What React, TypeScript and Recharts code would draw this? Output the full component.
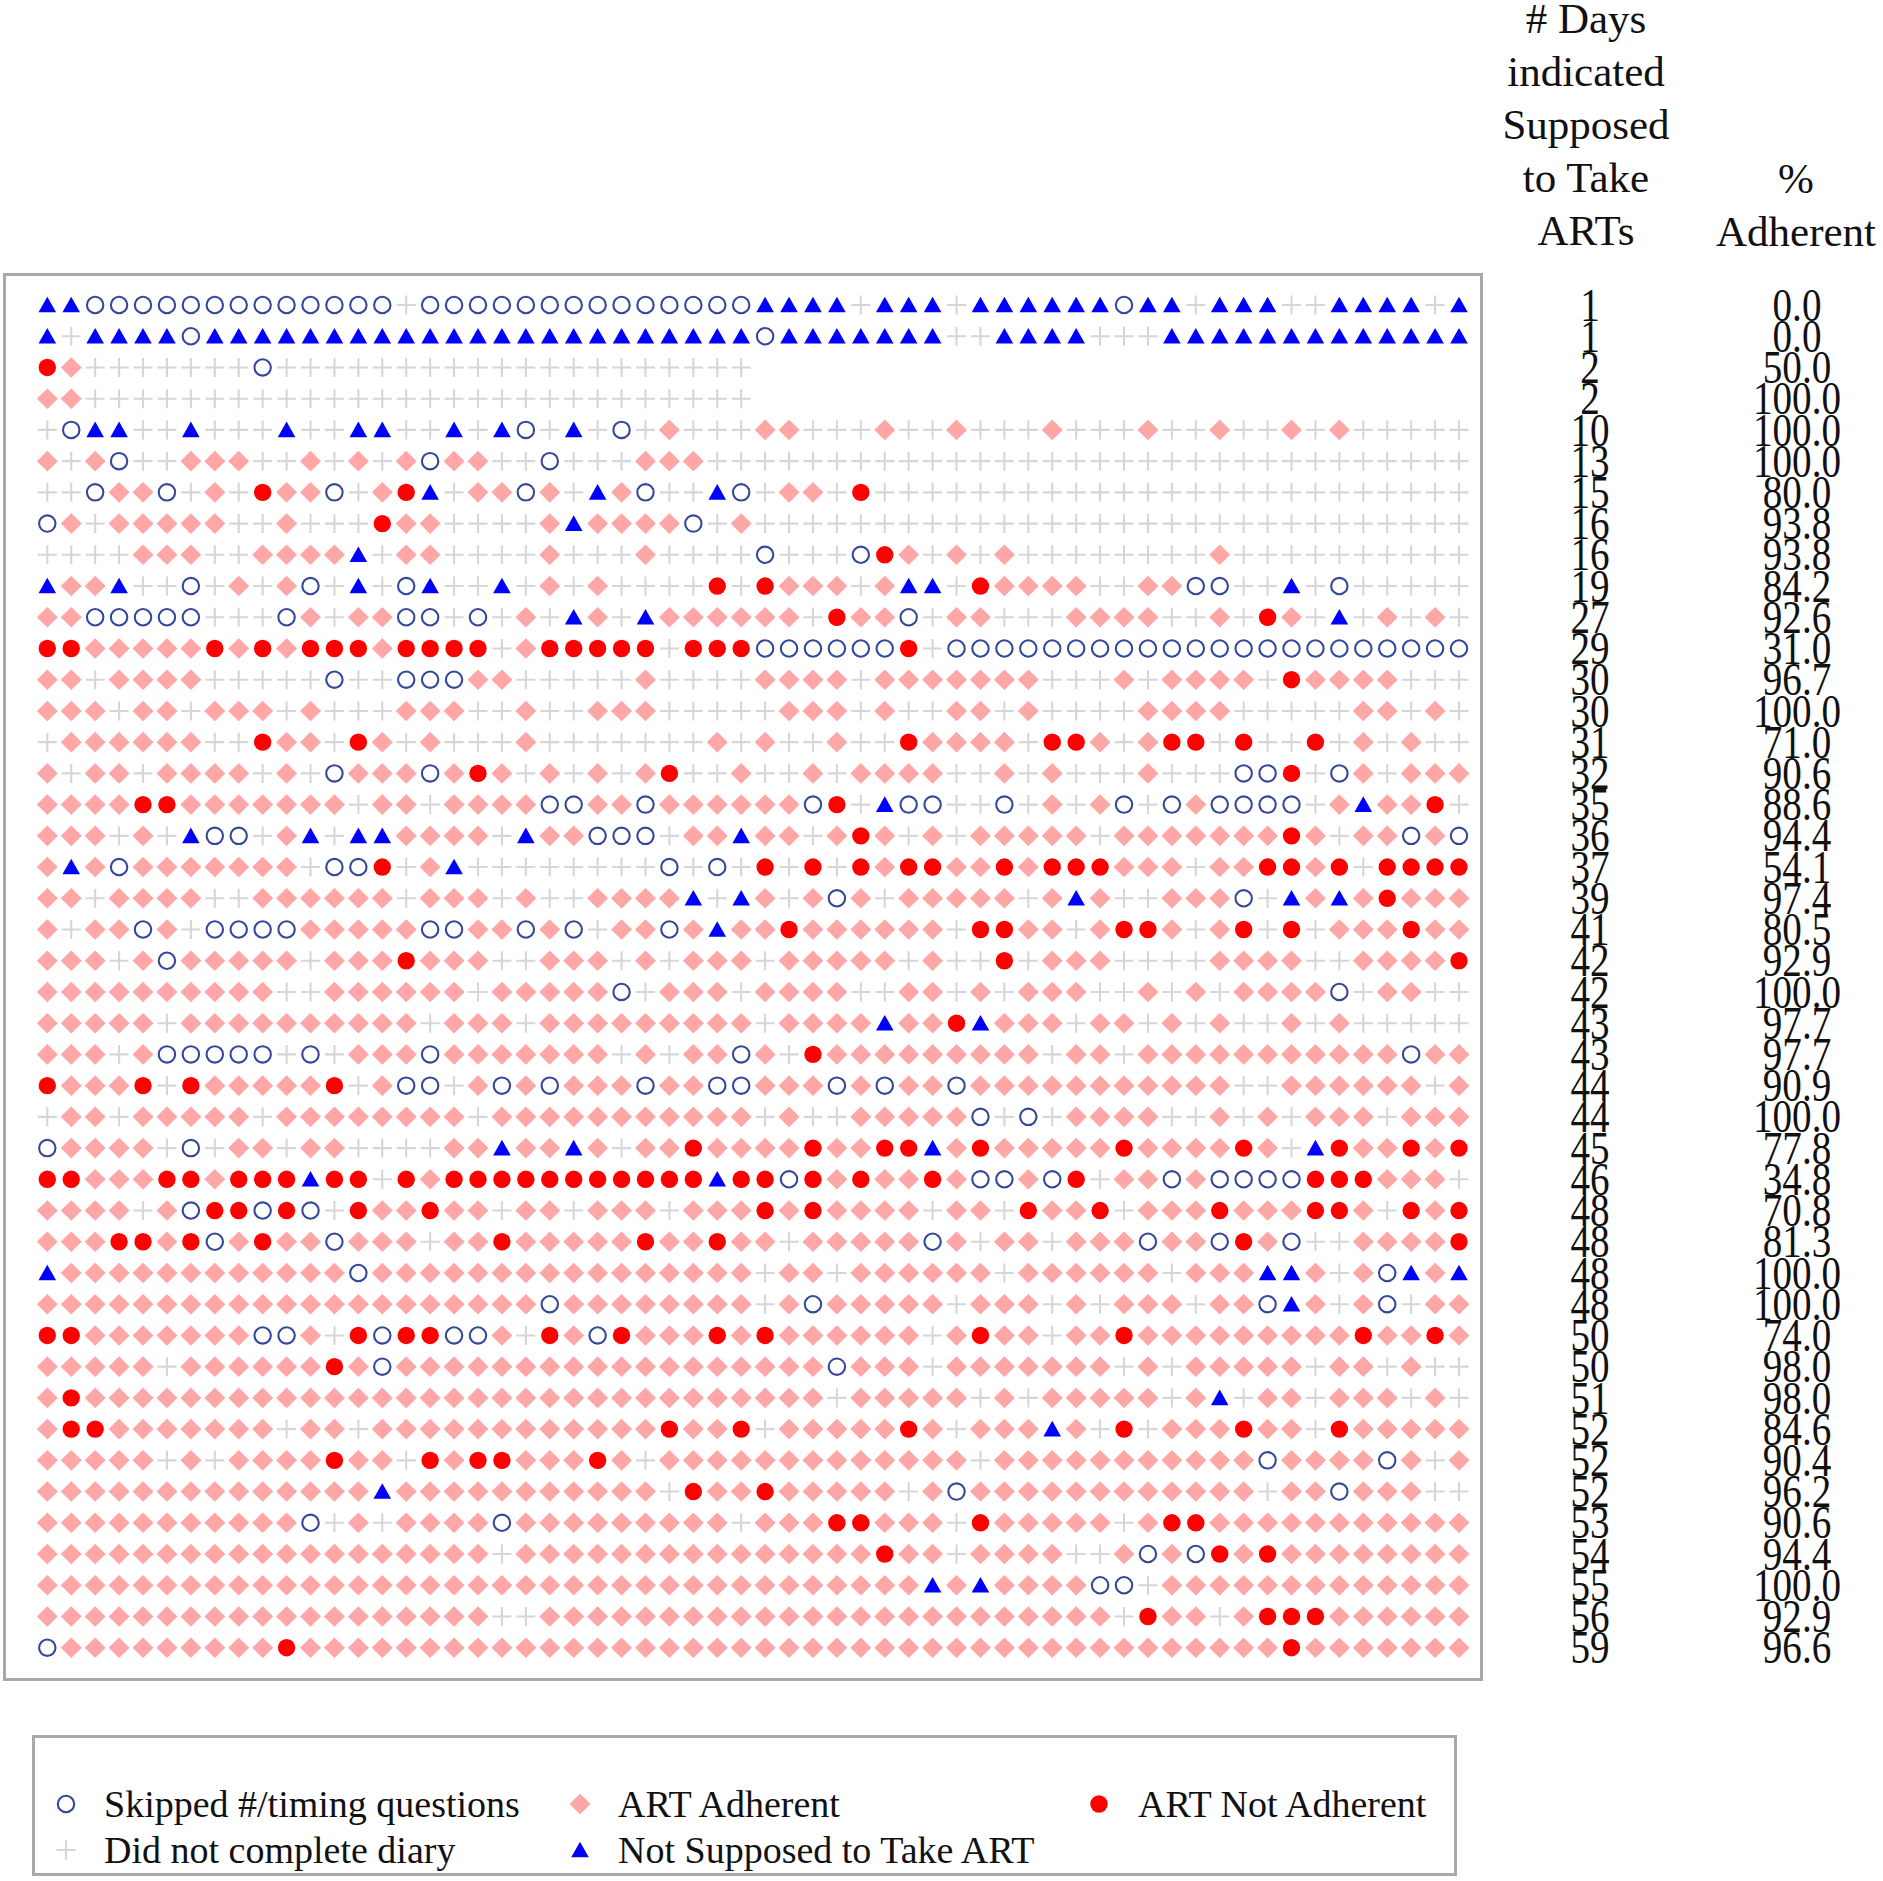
import React from "react";
import { ScatterChart, Scatter, XAxis, YAxis } from "recharts";

// Daily status per participant (rows) and study day (columns).
// O = skipped #/timing questions, D = ART adherent, R = ART not adherent,
// P = did not complete diary, T = not supposed to take ART
const dailyStatus: string[] = [
  "TTOOOOOOOO OOOOOPOOOO OOOOOOOOOO TTTTPTTTPT TTTTTOTTPT TTPPTTTTPT",
  "TPTTTTOTTT TTTTTTTTTT TTTTTTTTTT OTTTTTTTPP TTTTPPPTTT TTTTTTTTTT",
  "RDPPPPPPPO PPPPPPPPPP PPPPPPPPPP",
  "DDPPPPPPPP PPPPPPPPPP PPPPPPPPPP",
  "POTTPPTPPP TPPTTPPTPT OPTPOPDPPP DDPPPDPPDP PPDPPPDPPD PPDPDPPPPP",
  "DPDOPPDDDP PDPDPDODDP POPPPDDDPP PPPPPPPPPP PPPPPPPPPP PPPPPPPPPP",
  "PPODDOPDPR DDOPDRTPDD ODPTDOPPTO PDDPRPPPPP PPPPPPPPPP PPPPPPPPPP",
  "ODPDDDDDPP DPPPRDDPPP PDTDDDDOPD PPPPPPPPPP PPPPPPPPPP PPPPPPPPPP",
  "PPPPDDDPPD DDDTPDDPPP PDPPPDPPPP OPPPORDPDP DPPPPPPPPD PPPPPPPPPP",
  "TDDTPPOPDP DOPTPOTPPT PDPDPPPPRP RDDDPDTTPR DDDDPPDDOO PPTPOPPPPP",
  "DDOOOOOPPP ODPDDOOPOP DPTDPTDDDD DDPRDDOPDD PPPDDDDPPD PRDPTPDPDP",
  "RRDDDDDRDR DRRRDRRRRP DRRRRRPRRR OOOOOORPOO OOOOOOOOOO OOOOOOOOOO",
  "DDPDDDDPPP PPOPPOOODD PPPPPDPPPP DDDDPDDDDD DDPPPDPDDD DPRDDDDPPP",
  "DDDPDDPDDD PDPPPDDDPP DPPDDDPPPP PDDDPDPPDD PDPPPPDDDD PPPPPDDPDP",
  "PDDDDDDPPR DDPRDPDPPP DPPPPPPPDP DPPDPPRDDD DPRRDPDRRP RPPRPDPDPP",
  "DPDDPDDDDP DPODDDODRD PDPDPDRPPD PPDPDDDDPP DPDPPPDPPP OORPODPDDD",
  "DDDDRRDDDD DDDPDDPDDD DOODDODDDD DDORPTOOPP OPDPDOPODO OOOPDTDDRP",
  "DDDPDPTOOP DTPTTDDDDP TDDOOOPDDT DDPDRDPDPD DDDDPDDDDD DDRDPDDODO",
  "DTDODDDDDD DPOORPDTPP PPPPPPOPOP RPRPRDRRDD RDRRRDDDPD DRRDRPRRRR",
  "DDPDDDDPPD DDDDDPDDDP DPPDDDDTPT DPDODPDDDD DPDTDPPDDD OPTDTDRDDD",
  "DPDDODPOOO ODDDDDOODD ODOPDDODTD DRDDDDDDPR RDDPDRRDPD RPRPDDDRDD",
  "DDDPDODDDD DPDDDRDDDP PDDDPDPDDD PDDDDDPDPP RPDDDPPPPD DDDPPDDDDR",
  "DDDDDDDDDD PPDDDDDDPD DDDDOPDDDP DDDDPPDDPD PDDDPPDPDP DDDDOPDDPP",
  "DDDDDPDDDD DDDDDDPDDD PDDDDDDDDD PDDDDTDDRT DDDPDDPDPD PPDPDPPPPP",
  "DDDPDOOOOO POPDDDODDD DDDDPDPDDO DPRDDDDDDD DDPDDPDDDD DDDDDDDODD",
  "RDDDRPRDDD DDRPDOOPDO DODDDODDOO DDDODODDOD DDDDDDDDDD PPDDDDDDPD",
  "PDDPDDDDDP DDDDDDDDPD DDDDDDDDDD PDPPDDDDDO POPDDDDPPD PDPDDDPDDD",
  "ODDDDPOPDD PDDPPPPDDT DDTDPDDRDD DDRDDRRTDR DDDDDRDDDD RDPTRDDRDR",
  "RRDDDRRDRR RTRRPRDRRR RRRRRRRRTR RORDRDDRDO ODORPDDODO OOORRRDDDP",
  "DDDDPDORRO ROPRDDRDDP DDPDDDPDDD RDRDDDDPDD PRDDRPDDDR DDDRRDPRDR",
  "DDDRRDRODR DDODDDPDDR DDDDDRDDRD DPDDDDDODP DDPDDDODDO RDOPPDDDDR",
  "TDDDDDDDDD DDDODDDDDD DDDDDDDDDD PDDPDDDDDD PDDDDDDPDD DTTDPDOTDT",
  "DDDDDDDDDD DDDDDDDDDD DODDDDDDDD PDODDDDDPD DDPDPDDDPD DOTDPDOPDD",
  "RRDDDDDDDO ODPRORROOD PRDORDDDRD RDDDDDDPDR DDPDDRDDDD DDDDDRDDRD",
  "DDDDDPDDDD DDRDODDDDD DDDDDDDDDD DDDODDDPDD DDDDDPDPDD DDDPDDPDPP",
  "DRDDDDDDDD DDDDDDDDDD DDDDDDDDDD DDDPDDDDDP DPDDDDDPDT PDDPDDDPDP",
  "DRRDDDDDDD PDDPDDDDDD DDDDDDRDDR PDDDDDRDPD DDTDPRPDDD RDDPRDDDDD",
  "DDDDDPDPDD DDRDDPRDRR DDDRDPDDDD DDDDDDDDDP DDDDDDDDDD DODDDDODPD",
  "DDDDDDDDDD DDDDTDDDDD DDDDDDPRDD RDDDDDPDOD DDDDDDDDDD DPDDODDDPP",
  "DDDDDDDDDD DOPDPDDDDO DDDDDDDDDP DDDRRDDDPR DDDDDPDRRD DDDDDDDDDD",
  "DDDDDDDDDD DDDDDDDDDP DDDDDDDDDD DDDDDRDDPD DDDPPDODOR DRDDDDDDDD",
  "DDDDDDDDDD DDDDDDDDDD DDDDDDDDDD DDDDDDDTDT DDDDOOPDDD DDDDDDDDDD",
  "DDDDDDDDDD DDDDDDDDDP PDDDDDDDDD DDDDDDDDDD DDDDDPRDDP DRRRDDDDDD",
  "ODDDDDDDDD RDDDDDDDDD DDDDDDDDDD DDDDDDDDDD DDDDDDDDDD DDRDDDDDDD",
];

const daysSupposed: number[] = [
  1, 1, 2, 2, 10, 13, 15, 16, 16, 19, 27, 29, 30, 30, 31, 32, 35, 36, 37, 39, 41, 42,
  42, 43, 43, 44, 44, 45, 46, 48, 48, 48, 48, 50, 50, 51, 52, 52, 52, 53, 54, 55, 56, 59,
];

const pctAdherent: number[] = [
  0.0, 0.0, 50.0, 100.0, 100.0, 100.0, 80.0, 93.8, 93.8, 84.2, 92.6, 31.0, 96.7, 100.0,
  71.0, 90.6, 88.6, 94.4, 54.1, 97.4, 80.5, 92.9, 100.0, 97.7, 97.7, 90.9, 100.0, 77.8,
  34.8, 70.8, 81.3, 100.0, 100.0, 74.0, 98.0, 98.0, 84.6, 90.4, 96.2, 90.6, 94.4, 100.0,
  92.9, 96.6,
];

const headerDays: string[] = ["# Days", "indicated", "Supposed", "to Take", "ARTs"];
const headerPct: string[] = ["%", "Adherent"];

const statusCodes: string[] = ["O", "D", "R", "P", "T"];
const statusNames: string[] = [
  "Skipped #/timing questions",
  "ART Adherent",
  "ART Not Adherent",
  "Did not complete diary",
  "Not Supposed to Take ART",
];

const FONT = '"Liberation Serif", "Times New Roman", Times, serif';

const grid: string[] = dailyStatus.map((s) => s.replace(/ /g, ""));
const rowIndex: number[] = grid.map((_, i) => i);

function pointsFor(code: string) {
  const pts: { day: number; participant: number }[] = [];
  grid.forEach((row, r) => {
    for (let c = 0; c < row.length; c++) {
      if (row[c] === code) pts.push({ day: c, participant: r });
    }
  });
  return pts;
}

function Marker({ code, cx, cy }: { code: string; cx: number; cy: number }) {
  if (cx == null || cy == null) return null;
  switch (code) {
    case "O":
      return <circle cx={cx} cy={cy} r={8.2} fill="none" stroke="#34489a" strokeWidth={2.1} />;
    case "D":
      return (
        <polygon
          points={`${cx},${cy - 10.3} ${cx + 10.5},${cy} ${cx},${cy + 10.3} ${cx - 10.5},${cy}`}
          fill="#ffa6a6"
        />
      );
    case "R":
      return <circle cx={cx} cy={cy} r={8.7} fill="#ff0000" />;
    case "P":
      return (
        <path
          d={`M${cx - 9.5},${cy}H${cx + 9.5}M${cx},${cy - 9.5}V${cy + 9.5}`}
          stroke="#d6d6d6"
          strokeWidth={2.1}
          fill="none"
        />
      );
    case "T":
      return (
        <polygon
          points={`${cx},${cy - 8.3} ${cx + 8.8},${cy + 7.3} ${cx - 8.8},${cy + 7.3}`}
          fill="#0000ff"
        />
      );
    default:
      return null;
  }
}

const RowLabel = (props: any) => {
  const { y, payload } = props;
  const i = payload.value as number;
  if (i < 0 || i >= daysSupposed.length) return null;
  return (
    <g fontFamily={FONT} fontSize={46} fill="#111">
      <text
        transform={`translate(1590, ${y}) scale(0.85, 1)`}
        textAnchor="middle"
        dominantBaseline="central"
      >
        {daysSupposed[i]}
      </text>
      <text
        transform={`translate(1797, ${y}) scale(0.85, 1)`}
        textAnchor="middle"
        dominantBaseline="central"
      >
        {pctAdherent[i].toFixed(1)}
      </text>
    </g>
  );
};

export default function App() {
  const legendPos = [
    { sx: 66, tx: 104, y: 1804 },
    { sx: 580, tx: 618, y: 1804 },
    { sx: 1099, tx: 1138, y: 1804 },
    { sx: 66, tx: 104, y: 1850 },
    { sx: 580, tx: 618, y: 1850 },
  ];
  return (
    <div
      style={{
        position: "absolute",
        left: 0,
        top: 0,
        width: 1883,
        height: 1881,
        background: "#ffffff",
        overflow: "hidden",
      }}
    >
      <div
        style={{
          position: "absolute",
          left: 3,
          top: 273,
          width: 1480,
          height: 1408,
          border: "3px solid #a9a9a9",
          boxSizing: "border-box",
        }}
      />
      <div
        style={{
          position: "absolute",
          left: 32,
          top: 1735,
          width: 1425,
          height: 141,
          border: "3px solid #a9a9a9",
          boxSizing: "border-box",
        }}
      />
      <svg
        width={1883}
        height={1881}
        style={{ position: "absolute", left: 0, top: 0 }}
        fontFamily={FONT}
      >
        {headerDays.map((t, i) => (
          <text
            key={t}
            x={1586}
            y={18 + i * 53.1}
            fontSize={43}
            textAnchor="middle"
            dominantBaseline="central"
            fill="#111"
          >
            {t}
          </text>
        ))}
        {headerPct.map((t, i) => (
          <text
            key={t}
            x={1796}
            y={178 + i * 53.1}
            fontSize={43}
            textAnchor="middle"
            dominantBaseline="central"
            fill="#111"
          >
            {t}
          </text>
        ))}
        {statusCodes.map((code, i) => (
          <g key={code}>
            <Marker code={code} cx={legendPos[i].sx} cy={legendPos[i].y} />
            <text
              x={legendPos[i].tx}
              y={legendPos[i].y}
              fontSize={38}
              dominantBaseline="central"
              fill="#111"
            >
              {statusNames[i]}
            </text>
          </g>
        ))}
      </svg>
      <div style={{ position: "absolute", left: 0, top: 0 }}>
        <ScatterChart
          width={1883}
          height={1881}
          margin={{ top: 305, right: 0, bottom: 233.3, left: 47.3 }}
        >
          <XAxis type="number" dataKey="day" domain={[0, 59]} hide />
          <YAxis
            type="number"
            dataKey="participant"
            domain={[0, 43]}
            reversed
            orientation="right"
            width={424}
            ticks={rowIndex}
            interval={0}
            axisLine={false}
            tickLine={false}
            tick={RowLabel}
          />
          {statusCodes.map((code) => (
            <Scatter
              key={code}
              name={statusNames[statusCodes.indexOf(code)]}
              data={pointsFor(code)}
              isAnimationActive={false}
              shape={(p: any) => <Marker code={code} cx={p.cx} cy={p.cy} />}
            />
          ))}
        </ScatterChart>
      </div>
    </div>
  );
}
